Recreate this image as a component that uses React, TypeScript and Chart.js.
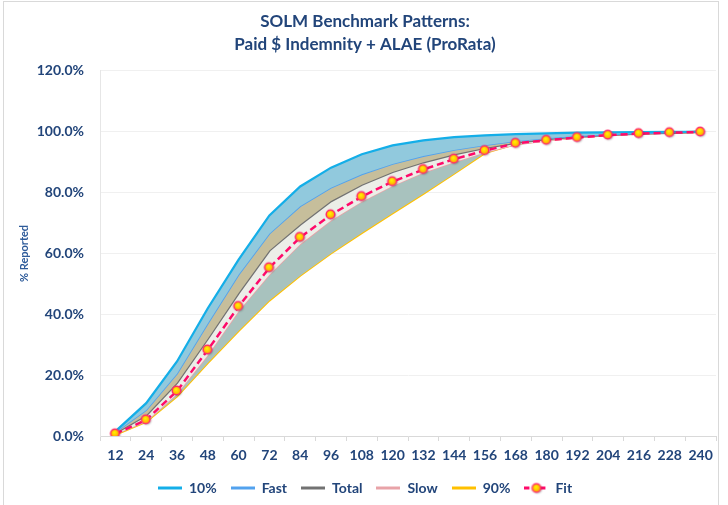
import React, { useEffect, useRef } from "react";
import { Chart, registerables } from "chart.js";

Chart.register(...registerables);

const categories = ["12", "24", "36", "48", "60", "72", "84", "96", "108", "120", "132", "144", "156", "168", "180", "192", "204", "216", "228", "240"];

const p10 = [1.5, 10.8, 24.5, 42, 58, 72.5, 82, 88.2, 92.6, 95.5, 97.2, 98.2, 98.8, 99.2, 99.5, 99.7, 99.8, 99.9, 100, 100];
const fast = [1.2, 8.5, 20.5, 37, 53, 66.5, 75.5, 81.6, 86, 89.4, 92, 94, 95.6, 96.9, 97.9, 98.6, 99.1, 99.5, 99.8, 100];
const total = [1, 6.8, 17.5, 32, 47, 61, 69.5, 77.2, 82.6, 86.8, 90, 92.6, 94.7, 96.4, 97.6, 98.4, 99, 99.4, 99.7, 100];
const slow = [0.6, 4.8, 13.8, 26.5, 41, 53, 63, 70.8, 77, 82.2, 86.5, 90, 93.2, 95.7, 97, 98, 98.8, 99.3, 99.6, 99.9];
const p90 = [0.4, 4.6, 13, 24, 34.5, 44.5, 52.7, 60, 66.7, 73.2, 79.6, 86.2, 93, 96, 97.2, 98.1, 98.9, 99.4, 99.7, 99.9];
const fit = [0.7, 5.3, 14.8, 28.3, 42.6, 55.3, 65.3, 72.7, 78.7, 83.6, 87.6, 91, 93.8, 96.2, 97.2, 98.1, 98.9, 99.4, 99.7, 99.9];

const yTicks = [0, 20, 40, 60, 80, 100, 120];
const titleLines = ["SOLM Benchmark Patterns:", "Paid $ Indemnity + ALAE (ProRata)"];
const legendNames = ["10%", "Fast", "Total", "Slow", "90%", "Fit"];

const TEXT = "#22457a";
const FONT = "Lato";

function makeMarker(): HTMLCanvasElement {
  const c = document.createElement("canvas");
  c.width = 16;
  c.height = 16;
  const g = c.getContext("2d")!;
  g.shadowColor = "rgba(0,0,0,0.35)";
  g.shadowBlur = 2;
  g.shadowOffsetX = 1;
  g.shadowOffsetY = 1;
  const grad = g.createRadialGradient(7, 6.5, 0.5, 7.5, 7.5, 5);
  grad.addColorStop(0, "#fff000");
  grad.addColorStop(1, "#ff9800");
  g.beginPath();
  g.arc(7.5, 7.5, 4.3, 0, Math.PI * 2);
  g.fillStyle = grad;
  g.fill();
  g.shadowColor = "transparent";
  g.lineWidth = 1.5;
  g.strokeStyle = "#ff2d6a";
  g.stroke();
  return c;
}

function makeLineSym(color: string, width: number, dashed = false, marker?: HTMLCanvasElement): HTMLCanvasElement {
  const c = document.createElement("canvas");
  c.width = 24;
  c.height = 14;
  const g = c.getContext("2d")!;
  g.strokeStyle = color;
  g.lineWidth = width;
  if (dashed) g.setLineDash([5, 3]);
  g.beginPath();
  g.moveTo(0, 7);
  g.lineTo(24, 7);
  g.stroke();
  if (marker) g.drawImage(marker, 12 - 7.5, 7 - 7.5);
  return c;
}

export default function App() {
  const ref = useRef<HTMLCanvasElement>(null);
  useEffect(() => {
    if (!ref.current) return;
    const marker = makeMarker();
    const colors = ["#14aee8", "#52a2ee", "#727272", "#e8a3a8", "#ffc000", "#ff0a6a"];
    const widths = [2.25, 1.75, 2.5, 1.5, 2, 2.5];
    const syms = [
      makeLineSym(colors[0], 3),
      makeLineSym(colors[1], 3),
      makeLineSym(colors[2], 3),
      makeLineSym(colors[3], 3),
      makeLineSym(colors[4], 3),
      makeLineSym(colors[5], 3, true, marker),
    ];
    const fills = ["#91c9dd", "#c6be9b", "#eceee8", "#a8c2be"];
    const series = [p10, fast, total, slow, p90];
    const datasets: any[] = series.map((d, i) => ({
      label: legendNames[i],
      data: d,
      borderColor: colors[i],
      borderWidth: widths[i],
      backgroundColor: fills[i] ?? "transparent",
      fill: i < 4 ? "+1" : false,
      pointRadius: 0,
      tension: 0,
      order: 1,
    }));
    datasets.push({
      label: legendNames[5],
      data: fit,
      borderColor: colors[5],
      borderWidth: widths[5],
      borderDash: [7, 4],
      fill: false,
      pointStyle: marker,
      pointRadius: 5,
      tension: 0,
      order: 0,
    });

    const chart = new Chart(ref.current, {
      type: "line",
      data: { labels: categories, datasets },
      options: {
        animation: false,
        responsive: false,
        devicePixelRatio: 1,
        layout: { padding: { left: 14, right: 12, top: 0, bottom: 0 } },
        plugins: {
          title: {
            display: true,
            text: titleLines,
            color: TEXT,
            font: { family: FONT, size: 17, weight: "bold", lineHeight: 1.35 },
            padding: { top: 10.5, bottom: 14.5 },
          },
          legend: {
            position: "bottom",
            labels: {
              color: TEXT,
              font: { family: FONT, size: 14, weight: "bold" },
              usePointStyle: true,
              pointStyleWidth: 24,
              boxHeight: 14,
              padding: 14,
              generateLabels: () =>
                legendNames.map((n, i) => ({
                  text: n,
                  pointStyle: syms[i],
                  fillStyle: "transparent",
                  strokeStyle: "transparent",
                  lineWidth: 0,
                  hidden: false,
                  datasetIndex: i,
                  fontColor: TEXT,
                })) as any,
            },
          },
          tooltip: { enabled: false },
        },
        scales: {
          x: {
            offset: true,
            afterFit: (s: any) => {
              s.height = 31;
            },
            grid: {
              offset: true,
              drawOnChartArea: false,
              drawTicks: true,
              tickLength: 5,
              color: "#d9d9d9",
            },
            border: { color: "#d9d9d9", width: 1 },
            ticks: {
              color: TEXT,
              font: { family: FONT, size: 14, weight: "bold" },
              padding: 6,
              maxRotation: 0,
              autoSkip: false,
            },
          },
          y: {
            min: 0,
            max: 120,
            afterFit: (s: any) => {
              s.width = 86;
            },
            afterBuildTicks: (s: any) => {
              s.ticks = yTicks.map((v) => ({ value: v }));
            },
            grid: { color: "#f0f0f0", drawTicks: false },
            border: { color: "#e6e6e6", width: 1 },
            ticks: {
              color: TEXT,
              font: { family: FONT, size: 14, weight: "bold" },
              padding: 16,
              callback: (v: any) => Number(v).toFixed(1) + "%",
            },
            title: {
              display: true,
              text: "% Reported",
              color: "#2e5b9a",
              font: { family: FONT, size: 11, weight: "bold" },
              padding: { top: 4, bottom: 4 },
            },
          },
        },
      },
    });
    return () => chart.destroy();
  }, []);

  return (
    <div style={{ position: "absolute", left: 0, top: 0, width: 728, height: 505, overflow: "hidden", background: "#fff" }}>
      <div style={{ position: "absolute", left: 3, top: 1, width: 716, height: 540, border: "1px solid #d9d9d9", boxSizing: "border-box" }} />
      <canvas ref={ref} width={728} height={505} style={{ position: "absolute", left: 0, top: 0, width: 728, height: 505 }} />
    </div>
  );
}
